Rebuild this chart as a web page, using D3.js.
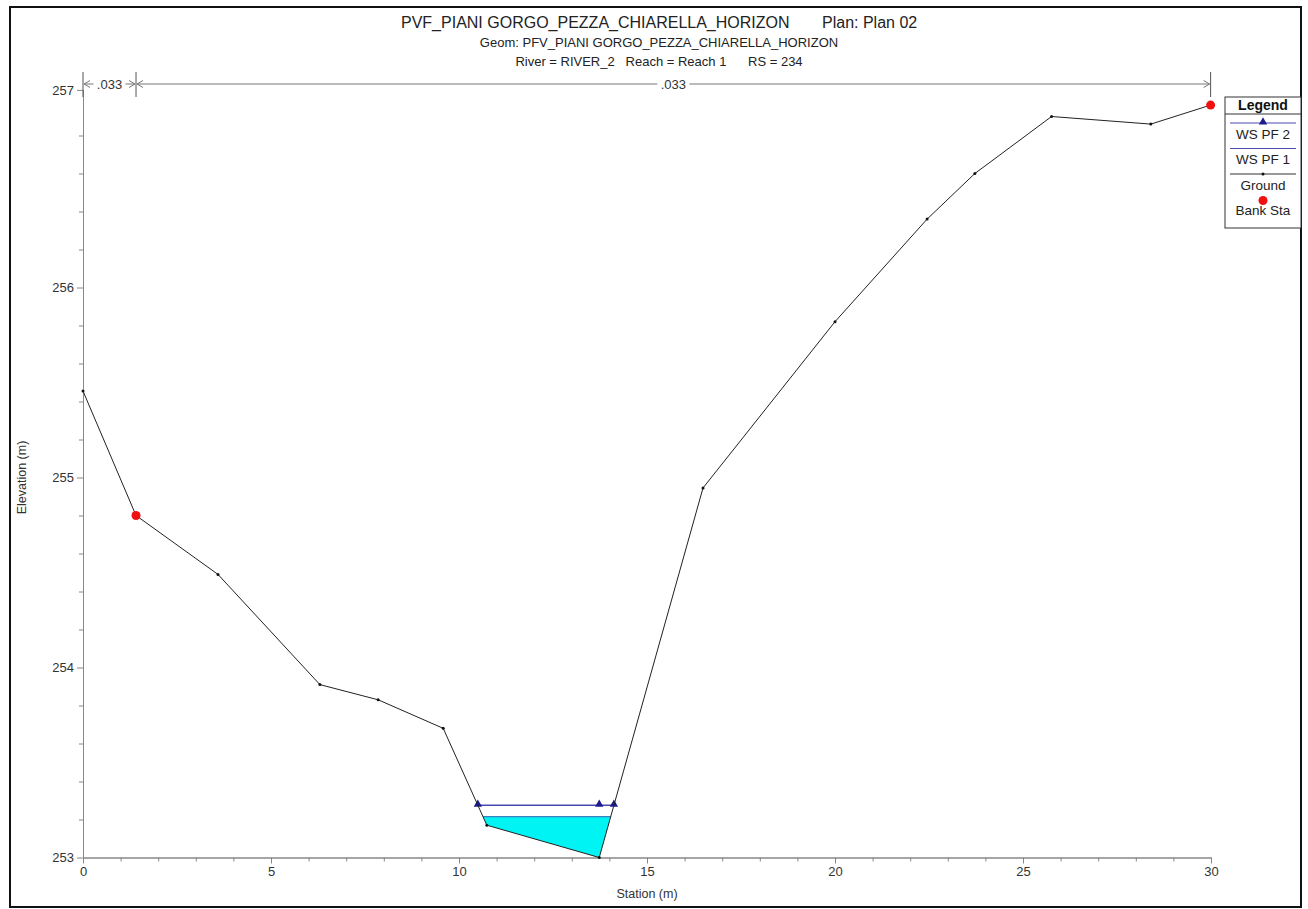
<!DOCTYPE html>
<html>
<head>
<meta charset="utf-8">
<script src="https://cdn.jsdelivr.net/npm/d3@7"></script>
<style>
  body { margin: 0; background: #fff; }
  svg { display: block; font-family: "Liberation Sans", Arial, sans-serif; }
</style>
</head>
<body>
<div id="xs_plot"></div>
<script>
// ground profile (station m, elevation m)
const groundStation = [0, 1.41, 3.59, 6.30, 7.85, 9.58, 10.74, 13.73, 16.49, 20.0, 22.45, 23.72, 25.76, 28.40, 29.99];
const groundElev = [255.455, 254.80, 254.49, 253.91, 253.83, 253.68, 253.17, 253.0, 254.945, 255.82, 256.36, 256.60, 256.90, 256.86, 256.96];

// bank stations
const bankStation = [1.41, 29.99];
const bankElev = [254.80, 256.96];

// water surfaces
const wsPf2 = 253.275;
const wsPf1 = 253.215;
const wsPf2MidMarker = [13.73];

// manning's n breaks
const nStations = [0, 1.41, 29.99];
const nValues = [".033", ".033"];

// axis ticks
const xTicks = [0, 5, 10, 15, 20, 25, 30];
const xMinor = d3.range(0, 31, 1).filter((d) => d % 5 !== 0);
const yTicks = [253, 254, 255, 256];
const yTop = 257.04;
const yMinor = d3.range(253.2, 257, 0.2).filter((d) => Math.abs(d - Math.round(d)) > 0.01);

const legendItems = ["WS PF 2", "WS PF 1", "Ground", "Bank Sta"];

const W = 1308, H = 909;
const plot = { left: 83, right: 1211, bottom: 857.5, pxPerM: 190 };

const svg = d3
  .select("#xs_plot")
  .append("svg")
  .attr("width", W)
  .attr("height", H);

svg.append("rect").attr("width", W).attr("height", H).attr("fill", "#fff");

// outer frame
svg
  .append("rect")
  .attr("x", 10)
  .attr("y", 7)
  .attr("width", 1291)
  .attr("height", 900)
  .attr("fill", "none")
  .attr("stroke", "#111")
  .attr("stroke-width", 2);

const x = d3.scaleLinear().domain([0, 30]).range([plot.left, plot.right]);
const y = d3
  .scaleLinear()
  .domain([253, yTop])
  .range([plot.bottom, plot.bottom - (yTop - 253) * plot.pxPerM]);

// titles
svg
  .append("text")
  .attr("x", 401)
  .attr("y", 28)
  .style("font-size", "16px")
  .attr("fill", "#222")
  .text("PVF_PIANI GORGO_PEZZA_CHIARELLA_HORIZON");
svg
  .append("text")
  .attr("x", 822)
  .attr("y", 28)
  .style("font-size", "16px")
  .attr("fill", "#222")
  .text("Plan: Plan 02");
svg
  .append("text")
  .attr("x", 659)
  .attr("y", 47)
  .attr("text-anchor", "middle")
  .style("font-size", "13px")
  .attr("fill", "#222")
  .text("Geom: PFV_PIANI GORGO_PEZZA_CHIARELLA_HORIZON");
svg
  .append("text")
  .attr("x", 659)
  .attr("y", 66)
  .attr("text-anchor", "middle")
  .style("font-size", "13px")
  .attr("fill", "#222")
  .attr("xml:space", "preserve")
  .text("River = RIVER_2   Reach = Reach 1      RS = 234");

// axes
const styleAxis = (g) => {
  g.select(".domain").attr("stroke", "#888");
  g.selectAll(".tick line").attr("stroke", "#888");
  g.selectAll(".tick text").attr("fill", "#333").style("font-size", "13px").style("font-family", "Liberation Sans, Arial, sans-serif");
};

svg
  .append("g")
  .attr("transform", `translate(0,${plot.bottom})`)
  .call(d3.axisBottom(x).tickValues(xMinor).tickSize(4).tickFormat("").tickSizeOuter(0))
  .call(styleAxis);
svg
  .append("g")
  .attr("transform", `translate(0,${plot.bottom})`)
  .call(d3.axisBottom(x).tickValues(xTicks).tickSize(6).tickPadding(3).tickSizeOuter(0))
  .call(styleAxis);

svg
  .append("g")
  .attr("transform", `translate(${plot.left},0)`)
  .call(d3.axisLeft(y).tickValues(yMinor).tickSize(4).tickFormat("").tickSizeOuter(0))
  .call(styleAxis);
svg
  .append("g")
  .attr("transform", `translate(${plot.left},0)`)
  .call(d3.axisLeft(y).tickValues(yTicks.concat([yTop])).tickSize(6).tickPadding(3).tickFormat(d3.format(".0f")).tickSizeOuter(0))
  .call(styleAxis);

svg
  .append("text")
  .attr("x", (plot.left + plot.right) / 2)
  .attr("y", 898)
  .attr("text-anchor", "middle")
  .style("font-size", "12.5px")
  .attr("fill", "#333")
  .text("Station (m)");
svg
  .append("text")
  .attr("transform", `translate(26,${y(255)}) rotate(-90)`)
  .attr("text-anchor", "middle")
  .style("font-size", "12.5px")
  .attr("fill", "#333")
  .text("Elevation (m)");

// ground / water surface intersections
const ground = groundStation.map((s, i) => [s, groundElev[i]]);
function crossings(level) {
  const out = [];
  for (let i = 0; i < ground.length - 1; i++) {
    const [s0, e0] = ground[i], [s1, e1] = ground[i + 1];
    if ((e0 - level) * (e1 - level) < 0) {
      out.push(s0 + ((level - e0) / (e1 - e0)) * (s1 - s0));
    }
  }
  return out;
}
const pf1 = crossings(wsPf1);
const pf2 = crossings(wsPf2);

// water fill for PF 1
const wetPts = [[pf1[0], wsPf1]]
  .concat(ground.filter((d) => d[0] > pf1[0] && d[0] < pf1[1]))
  .concat([[pf1[1], wsPf1]]);
svg
  .append("path")
  .datum(wetPts)
  .attr("d", d3.line().x((d) => x(d[0])).y((d) => y(d[1])))
  .attr("fill", "#00f4f4")
  .attr("stroke", "none");
svg
  .append("line")
  .attr("x1", x(pf1[0]))
  .attr("x2", x(pf1[1]))
  .attr("y1", y(wsPf1))
  .attr("y2", y(wsPf1))
  .attr("stroke", "#3d7fc0")
  .attr("stroke-width", 1.2);

// PF 2 line
svg
  .append("line")
  .attr("x1", x(pf2[0]))
  .attr("x2", x(pf2[1]))
  .attr("y1", y(wsPf2))
  .attr("y2", y(wsPf2))
  .attr("stroke", "#4848b0")
  .attr("stroke-width", 1.3);
const tri = d3.symbol().type(d3.symbolTriangle).size(30);
svg
  .append("g")
  .selectAll("path")
  .data([pf2[0], ...wsPf2MidMarker, pf2[1]])
  .join("path")
  .attr("d", tri)
  .attr("transform", (d) => `translate(${x(d)},${y(wsPf2) - 1})`)
  .attr("fill", "#1b1b8f");

// ground line
svg
  .append("path")
  .datum(ground)
  .attr("d", d3.line().x((d) => x(d[0])).y((d) => y(d[1])))
  .attr("fill", "none")
  .attr("stroke", "#222")
  .attr("stroke-width", 1);
svg
  .append("g")
  .selectAll("circle")
  .data(ground)
  .join("circle")
  .attr("cx", (d) => x(d[0]))
  .attr("cy", (d) => y(d[1]))
  .attr("r", 1.5)
  .attr("fill", "#111");

// bank stations
svg
  .append("g")
  .selectAll("circle")
  .data(bankStation)
  .join("circle")
  .attr("cx", (d) => x(d))
  .attr("cy", (d, i) => y(bankElev[i]))
  .attr("r", 4.5)
  .attr("fill", "#f01010");

// manning's n bar
const nY = 84;
const nBar = svg.append("g").attr("stroke", "#777").attr("fill", "none");
nStations.forEach((s) => {
  nBar.append("line").attr("x1", x(s)).attr("x2", x(s)).attr("y1", 72).attr("y2", 97).attr("stroke", "#555");
});
nValues.forEach((v, i) => {
  const a = x(nStations[i]) + 1, b = x(nStations[i + 1]) - 1;
  const mid = (a + b) / 2, half = 16;
  nBar.append("line").attr("x1", a).attr("x2", mid - half).attr("y1", nY).attr("y2", nY);
  nBar.append("line").attr("x1", mid + half).attr("x2", b).attr("y1", nY).attr("y2", nY);
  nBar.append("path").attr("d", `M${a + 6},${nY - 3.5}L${a},${nY}L${a + 6},${nY + 3.5}`);
  nBar.append("path").attr("d", `M${b - 6},${nY - 3.5}L${b},${nY}L${b - 6},${nY + 3.5}`);
  svg
    .append("text")
    .attr("x", mid)
    .attr("y", nY + 5)
    .attr("text-anchor", "middle")
    .style("font-size", "13px")
    .attr("fill", "#333")
    .text(v);
});

// legend
const lg = svg.append("g").attr("transform", "translate(1225,97)");
lg.append("rect").attr("width", 76).attr("height", 131).attr("fill", "#fff").attr("stroke", "#333");
lg.append("text").attr("x", 38).attr("y", 13).attr("text-anchor", "middle").style("font-size", "14px").style("font-weight", "bold").attr("fill", "#111").text("Legend");
lg.append("line").attr("x1", 0).attr("x2", 76).attr("y1", 17).attr("y2", 17).attr("stroke", "#333");
legendItems.forEach((name, i) => {
  const ly = 26 + i * 25.5;
  if (i < 3) {
    lg.append("line").attr("x1", 5).attr("x2", 71).attr("y1", ly).attr("y2", ly)
      .attr("stroke", i === 2 ? "#333" : "#4848b0").attr("stroke-width", 1.2);
  }
  if (i === 0) lg.append("path").attr("d", tri).attr("transform", `translate(38,${ly - 1})`).attr("fill", "#1b1b8f");
  if (i === 2) lg.append("circle").attr("cx", 38).attr("cy", ly).attr("r", 1.5).attr("fill", "#111");
  if (i === 3) lg.append("circle").attr("cx", 38).attr("cy", ly + 1).attr("r", 4.5).attr("fill", "#f01010");
  lg.append("text").attr("x", 38).attr("y", ly + 15.5).attr("text-anchor", "middle").style("font-size", "13.5px").attr("fill", "#222").text(name);
});
</script>
</body>
</html>
